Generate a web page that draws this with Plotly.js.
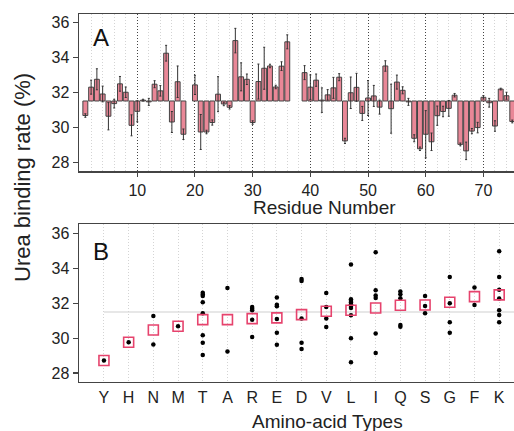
<!DOCTYPE html>
<html>
<head>
<meta charset="utf-8">
<script src="https://cdn.plot.ly/plotly-3.0.1.min.js"></script>
<style>html,body{margin:0;padding:0;background:#fff;}#chart{width:514px;height:431px;}</style>
</head>
<body>
<div id="chart"></div>
<script>
// ---- Panel A: urea binding rate per residue (null = no data) ----
const residues = [];
for (let i = 1; i <= 75; i++) residues.push(i);
const rateA = [
  30.67, 32.29, 32.74, 31.90, 30.63, 31.35, 32.48, 32.00, 30.11, 30.91,
  31.55, 31.45, 32.46, 32.08, 34.23, 30.30, 32.60, 29.60, null, 32.42,
  29.73, 29.73, 30.27, 31.89, 31.33, 31.14, 34.95, 32.88, 32.74, 30.27,
  32.61, 33.37, 33.50, 32.30, 33.49, 34.88, null, null, 33.12, 32.29,
  32.69, 31.55, 31.85, 32.25, 32.86, 29.22, 31.97, 32.28, 30.79, 31.67,
  31.79, 31.15, 33.50, 31.06, 32.58, 32.11, 31.45, 29.37, 28.77, 29.60,
  29.17, 30.66, 30.90, 31.08, 31.83, 29.02, 28.65, 29.78, 29.98, 31.71,
  31.40, 30.07, 32.18, 31.80, 30.33
];
const errA = [
  0.10, 0.40, 0.60, 0.45, 0.78, 0.25, 0.42, 0.30, 0.60, 0.60,
  0.05, 0.20, 0.20, 0.30, 0.45, 0.60, 0.90, 0.30, null, 0.55,
  1.00, 0.10, 0.15, 1.00, 0.10, 0.10, 0.70, 0.80, 0.30, 0.10,
  1.00, 1.20, 0.10, 0.10, 0.25, 0.40, null, null, 0.40, 0.70,
  0.35, 0.70, 0.30, 0.60, 0.20, 0.15, 0.90, 0.80, 0.40, 1.00,
  0.60, 0.40, 0.30, 1.40, 0.40, 0.20, 0.20, 0.20, 0.10, 1.35,
  0.50, 0.55, 0.30, 0.45, 0.10, 0.08, 0.50, 0.15, 0.30, 0.10,
  0.25, 0.30, 0.05, 0.20, 0.08
];
const baseline = 31.5;

// ---- Panel B: values grouped by amino-acid type ----
const aaTypes = ["Y","H","N","M","T","A","R","E","D","V","L","I","Q","S","G","F","K"];
const aaMeans = [28.72, 29.76, 30.47, 30.68, 31.06, 31.06, 31.12, 31.16, 31.35, 31.54,
                 31.60, 31.73, 31.89, 31.90, 32.06, 32.38, 32.48];
const aaPoints = [
  [28.72],
  [29.76],
  [31.27, 29.64],
  [30.68],
  [32.60, 32.50, 32.42, 32.06, 31.43, 30.16, 29.74, 29.03],
  [32.88, 29.24],
  [31.79, 31.69, 31.60, 31.06, 30.07],
  [32.33, 31.92, 31.83, 31.10, 30.31, 29.62],
  [33.40, 33.28, 31.12, 29.74, 29.38],
  [32.59, 31.79, 31.12, 30.64],
  [34.22, 32.23, 32.13, 32.04, 31.94, 31.85, 31.73, 31.31, 30.00, 28.61],
  [34.93, 32.75, 32.44, 32.31, 30.26, 29.15],
  [32.67, 32.52, 32.29, 30.75, 30.66],
  [32.42, 31.85, 31.43],
  [33.51, 32.00, 30.91, 30.31],
  [32.90, 31.90],
  [34.99, 33.51, 32.77, 32.27, 31.60, 31.33, 30.91]
];
const dotX = [], dotY = [];
aaPoints.forEach((arr, i) => arr.forEach(v => { dotX.push(aaTypes[i]); dotY.push(v); }));

const W = 514, H = 431;
const xdom = [79 / W, 1];
const ydomA = [1 - 171 / H, 1 - 14 / H];
const ydomB = [1 - 381.7 / H, 1 - 224 / H];
const FONT = "Liberation Sans, Arial, Helvetica, sans-serif";
const TXT = "#222";

const traces = [
  {
    type: "bar", x: residues,
    y: rateA.map(v => v === null ? null : v - baseline),
    base: baseline, width: 0.85,
    marker: { color: "#e98797", line: { color: "#444", width: 1 } },
    error_y: { type: "data", array: errA, visible: true, color: "#333", thickness: 1, width: 1 },
    xaxis: "x", yaxis: "y", hoverinfo: "x+text",
    text: rateA.map(v => v === null ? "" : v.toFixed(2)), textposition: "none"
  },
  {
    type: "scatter", mode: "markers", x: dotX, y: dotY,
    marker: { color: "#000", size: 4.5 },
    xaxis: "x2", yaxis: "y2"
  },
  {
    type: "scatter", mode: "markers", x: aaTypes, y: aaMeans,
    marker: { symbol: "square-open", color: "#e6436d", size: 10, line: { width: 1.6, color: "#e6436d" } },
    xaxis: "x2", yaxis: "y2"
  }
];

const yax = (dom) => ({
  domain: dom, range: [27.5, 36.5], dtick: 2, tick0: 0,
  showline: true, linecolor: "#444", linewidth: 1.5,
  ticks: "outside", ticklen: 5, tickwidth: 1.2, tickcolor: "#444",
  showgrid: false, zeroline: false,
  tickfont: { family: FONT, size: 16, color: TXT }, fixedrange: true
});

const ann = (text, x, y, size, extra) => Object.assign({
  text: text, xref: "paper", yref: "paper", x: x / W, y: 1 - y / H,
  xanchor: "center", yanchor: "middle", showarrow: false,
  font: { family: FONT, size: size, color: TXT }
}, extra || {});

const layout = {
  width: W, height: H,
  margin: { l: 0, r: 0, t: 0, b: 0 },
  paper_bgcolor: "#fff", plot_bgcolor: "#fff",
  showlegend: false, bargap: 0,
  xaxis: {
    domain: xdom, range: [-0.1, 75.3], anchor: "y",
    tickvals: [10, 20, 30, 40, 50, 60, 70],
    showline: true, mirror: true, linecolor: "#444", linewidth: 1.5,
    ticks: "outside", ticklen: 4, tickcolor: "#444",
    showgrid: true, gridcolor: "#444", griddash: "1px,2px", gridwidth: 1,
    minor: { dtick: 2, tick0: 0, showgrid: true, gridcolor: "#d4d4d4", griddash: "1px,2px", gridwidth: 1 },
    zeroline: false,
    tickfont: { family: FONT, size: 16, color: TXT }
  },
  yaxis: Object.assign(yax(ydomA), { anchor: "x", range: [27.5, 36.47] }),
  xaxis2: {
    domain: xdom, range: [-1.01, 16.6], anchor: "y2",
    type: "category", categoryorder: "array", categoryarray: aaTypes,
    showline: true, mirror: true, linecolor: "#444", linewidth: 1.5,
    ticks: "", ticklabelstandoff: 1,
    showgrid: true, gridcolor: "#d4d4d4", griddash: "1px,2px", gridwidth: 1,
    zeroline: false,
    tickfont: { family: FONT, size: 16, color: TXT }
  },
  yaxis2: Object.assign(yax(ydomB), { anchor: "x2", range: [27.5, 36.55] }),
  shapes: [
    { type: "line", xref: "x2", yref: "y2", x0: 0, x1: 17, y0: baseline, y1: baseline,
      line: { color: "#cfcfcf", width: 1 }, layer: "below" }
  ],
  annotations: [
    ann("A", 100.5, 37, 24, { font: { family: FONT, size: 24, color: "#111" } }),
    ann("B", 100.5, 251.5, 24, { font: { family: FONT, size: 24, color: "#111" } }),
    ann("Residue Number", 324, 207, 19),
    ann("Amino-acid Types", 327, 421, 19),
    ann("Urea binding rate (%)", 22, 178, 22, { textangle: -90 })
  ]
};

Plotly.newPlot("chart", traces, layout, { displayModeBar: false, staticPlot: true });
</script>
</body>
</html>
